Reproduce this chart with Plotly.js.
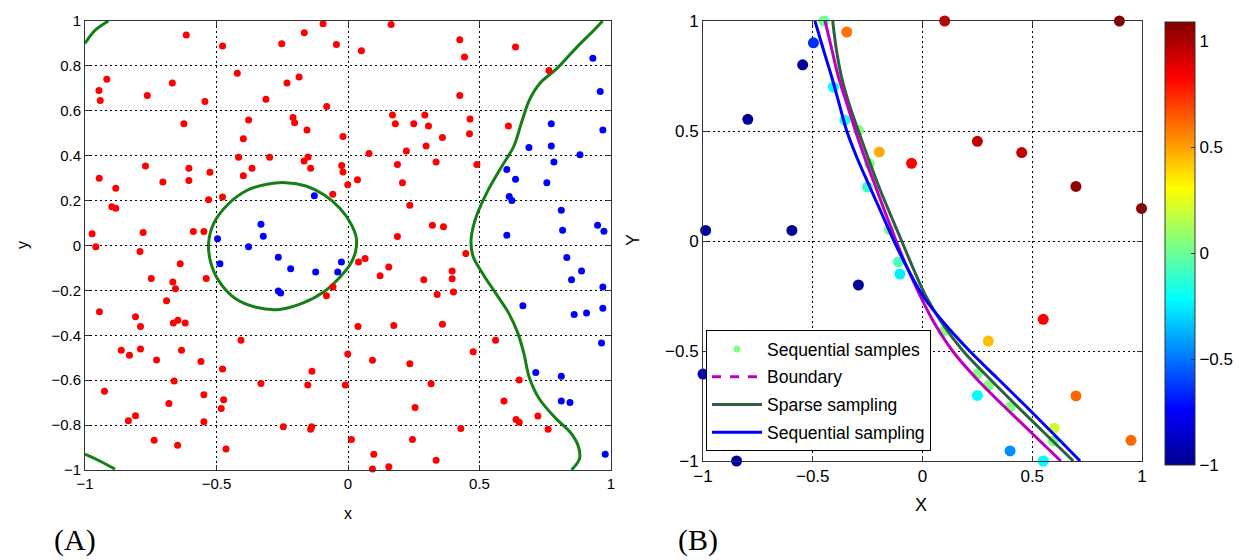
<!DOCTYPE html>
<html>
<head>
<meta charset="utf-8">
<script src="https://cdn.plot.ly/plotly-3.0.1.min.js"></script>
<style>html,body{margin:0;padding:0;background:#fff;}#chart{width:1254px;height:560px;}</style>
</head>
<body>
<div id="chart"></div>
<script>
// ---------- Panel A data ----------
var redX = [-0.615,-0.477,-0.252,-0.166,-0.095,-0.044,0.051,-0.947,-0.942,-0.917,-0.763,-0.668,-0.544,-0.624,-0.421,-0.232,-0.186,-0.312,-0.378,-0.209,-0.203,-0.156,-0.081,-0.019,-0.398,-0.416,-0.298,-0.167,-0.152,-0.142,-0.024,-0.019,-0.001,0.036,-0.058,-0.398,-0.365,-0.525,-0.605,-0.605,-0.704,-0.770,-0.946,-0.883,-0.898,-0.883,-0.530,-0.477,-0.588,-0.548,-0.779,-0.973,-0.959,-0.791,
0.164,0.425,0.443,0.637,0.764,0.425,0.169,0.180,0.250,0.292,0.306,0.359,0.464,0.462,0.297,0.222,0.080,0.188,0.335,0.490,0.207,0.235,0.321,0.363,0.188,0.610,
-0.638,-0.748,-0.666,-0.656,-0.539,-0.690,-0.945,-0.808,-0.789,-0.664,-0.647,-0.619,-0.862,-0.831,-0.789,-0.633,-0.728,-0.559,-0.407,-0.477,-0.926,-0.661,-0.548,-0.681,-0.473,-0.482,-0.331,-0.153,-0.137,-0.010,-0.001,0.038,0.040,-0.082,-0.057,-0.835,-0.808,-0.548,-0.737,-0.648,-0.464,-0.246,-0.138,-0.142,0.013,
0.448,0.065,0.155,0.122,0.288,0.396,0.396,0.401,0.339,0.174,0.359,0.561,0.476,0.093,0.235,0.316,0.651,0.593,0.255,0.639,0.651,0.722,0.761,0.429,0.245,0.098,0.335,0.155,0.093];
var redY = [0.938,0.889,0.899,0.948,0.988,0.895,0.867,0.690,0.646,0.741,0.668,0.724,0.641,0.542,0.767,0.724,0.751,0.652,0.559,0.570,0.547,0.514,0.619,0.486,0.476,0.393,0.393,0.376,0.394,0.344,0.356,0.327,0.271,0.293,0.228,0.311,0.344,0.326,0.344,0.289,0.283,0.354,0.299,0.255,0.173,0.166,0.204,0.216,0.062,0.062,0.058,0.052,-0.006,-0.027,
0.984,0.917,0.840,0.884,0.779,0.668,0.581,0.542,0.542,0.581,0.532,0.481,0.564,0.498,0.443,0.421,0.410,0.361,0.372,0.361,0.279,0.179,0.090,0.084,0.040,0.532,
-0.081,-0.147,-0.163,-0.193,-0.147,-0.246,-0.295,-0.317,-0.361,-0.345,-0.333,-0.345,-0.467,-0.489,-0.461,-0.467,-0.510,-0.517,-0.422,-0.550,-0.649,-0.604,-0.665,-0.704,-0.687,-0.726,-0.615,-0.621,-0.560,-0.621,-0.483,-0.361,-0.074,-0.224,-0.185,-0.781,-0.758,-0.785,-0.868,-0.890,-0.907,-0.807,-0.807,-0.819,-0.864,
-0.036,-0.058,-0.096,-0.135,-0.153,-0.114,-0.148,-0.207,-0.218,-0.356,-0.351,-0.422,-0.473,-0.511,-0.527,-0.616,-0.599,-0.693,-0.722,-0.775,-0.787,-0.759,-0.819,-0.815,-0.864,-0.930,-0.957,-0.985,-0.996];

var blueX = [-0.128,-0.331,-0.322,-0.496,-0.378,-0.487,-0.265,-0.218,-0.123,-0.025,-0.039,-0.265,-0.256,
0.931,0.959,0.969,0.773,0.688,0.773,0.882,0.783,0.604,0.637,0.756,0.613,0.623,0.811,0.816,0.949,0.973,0.604,0.832,0.888,0.850,0.969,0.665,0.860,0.907,0.969,0.964,1.002,0.714,0.811,0.811,0.844,0.978];
var blueY = [0.222,0.095,0.041,0.030,-0.006,-0.081,-0.052,-0.104,-0.118,-0.074,-0.118,-0.203,-0.212,
0.834,0.686,0.514,0.542,0.437,0.443,0.404,0.372,0.339,0.295,0.279,0.218,0.200,0.157,0.068,0.090,0.064,0.046,-0.053,-0.114,-0.153,-0.185,-0.268,-0.307,-0.301,-0.279,-0.434,-0.455,-0.566,-0.582,-0.693,-0.699,-0.930];

var loopX = [-0.530,-0.510,-0.455,-0.385,-0.308,-0.237,-0.160,-0.090,-0.030,0.012,0.032,0.028,0.008,-0.030,-0.090,-0.175,-0.262,-0.350,-0.430,-0.490,-0.522,-0.530];
var loopY = [0.012,0.100,0.185,0.245,0.273,0.280,0.265,0.225,0.165,0.095,0.030,-0.030,-0.085,-0.140,-0.205,-0.258,-0.285,-0.275,-0.235,-0.160,-0.075,0.012];
var rightEdgeX = [0.968,0.936,0.872,0.796,0.730,0.690,0.663,0.630,0.585,0.530,0.488,0.468,0.475,0.510,0.560,0.610,0.645,0.668,0.690,0.728,0.790,0.845,0.876,0.880,0.850];
var rightEdgeY = [1.0,0.96,0.886,0.790,0.723,0.649,0.560,0.441,0.353,0.240,0.130,0.027,-0.047,-0.121,-0.210,-0.299,-0.388,-0.477,-0.590,-0.684,-0.770,-0.832,-0.895,-0.950,-0.999];
var topCornerX = [-1.0,-0.962,-0.911];
var topCornerY = [0.90,0.958,1.0];
var bottomCornerX = [-1.0,-0.94,-0.886];
var bottomCornerY = [-0.929,-0.962,-0.996];

// ---------- Panel B data ----------
var sampX = [-0.449,-0.345,-0.497,-0.546,-0.796,-0.988,-0.595,-0.406,-0.353,-0.292,-0.197,-0.242,-0.251,-0.050,-0.152,0.101,0.897,0.250,0.452,0.699,0.998,-0.292,-0.110,-0.103,-1.0,-0.847,0.550,0.300,0.250,0.300,0.250,0.399,0.699,0.950,0.600,0.596,0.399,0.550,0.095];
var sampY = [1.0,0.95,0.901,0.801,0.553,0.048,0.048,0.70,0.549,0.503,0.405,0.352,0.245,0.353,0.052,1.0,1.0,0.453,0.402,0.248,0.148,-0.20,-0.095,-0.150,-0.605,-1.0,-0.356,-0.455,-0.605,-0.658,-0.702,-0.754,-0.704,-0.906,-0.851,-0.909,-0.954,-1.0,-0.412];
var sampV = [0.0,0.6,-0.64,-0.98,-0.97,-0.97,-0.99,-0.2,-0.15,0.05,0.48,0.03,-0.1,0.83,0.03,0.95,1.08,0.95,0.95,1.05,1.06,-0.97,-0.05,-0.25,-0.88,-0.95,0.83,0.44,0.05,0.05,-0.22,0.05,0.62,0.62,0.2,0.05,-0.45,-0.22,0.05];

var curveY = [1.0,0.875,0.75,0.625,0.5,0.375,0.25,0.125,0.0,-0.125,-0.25,-0.375,-0.5,-0.625,-0.75,-0.875,-1.0];
var boundaryX = [-0.444,-0.414,-0.384,-0.345,-0.305,-0.262,-0.215,-0.168,-0.120,-0.068,-0.010,0.055,0.137,0.245,0.370,0.500,0.630];
var sparseX = [-0.409,-0.393,-0.370,-0.335,-0.292,-0.247,-0.200,-0.148,-0.095,-0.042,0.015,0.090,0.185,0.305,0.430,0.558,0.687];
var seqX = [-0.490,-0.453,-0.415,-0.380,-0.345,-0.297,-0.242,-0.186,-0.130,-0.068,0.002,0.100,0.215,0.342,0.470,0.595,0.718];

var cbTicks = [-1,-0.5,0,0.5,1];

var jet = [[0,'rgb(0,0,143)'],[0.125,'rgb(0,0,255)'],[0.375,'rgb(0,255,255)'],[0.625,'rgb(255,255,0)'],[0.875,'rgb(255,0,0)'],[1,'rgb(128,0,0)']];
var FONT = '"Liberation Sans", Arial, sans-serif';
var SERIF = '"Liberation Serif", "Times New Roman", serif';
var GREEN_A = 'rgb(20,128,20)';

var traces = [];
function aLine(x,y){
  traces.push({x:x,y:y,xaxis:'x',yaxis:'y',type:'scatter',mode:'lines',line:{color:GREEN_A,width:3,shape:'spline',smoothing:1},showlegend:false,hoverinfo:'skip'});
}
aLine(loopX,loopY); aLine(rightEdgeX,rightEdgeY); aLine(topCornerX,topCornerY); aLine(bottomCornerX,bottomCornerY);
traces.push({x:redX,y:redY,xaxis:'x',yaxis:'y',type:'scatter',mode:'markers',marker:{color:'rgb(255,0,0)',size:7},cliponaxis:false,showlegend:false});
traces.push({x:blueX,y:blueY,xaxis:'x',yaxis:'y',type:'scatter',mode:'markers',marker:{color:'rgb(0,0,255)',size:7},cliponaxis:false,showlegend:false});

// Panel B
traces.push({x:sampX,y:sampY,xaxis:'x2',yaxis:'y2',type:'scatter',mode:'markers',cliponaxis:false,showlegend:false,
  marker:{size:11,color:sampV,cmin:-1,cmax:1.09,colorscale:jet,showscale:true,
    colorbar:{x:1165/1254,xanchor:'left',y:1-243.5/560,yanchor:'middle',thickness:30,thicknessmode:'pixels',len:443,lenmode:'pixels',
      xpad:0,ypad:0,outlinewidth:1,outlinecolor:'#333',tickvals:cbTicks,ticks:'inside',ticklen:4,tickcolor:'#333',
      tickfont:{family:FONT,size:17,color:'#000'}}}});
traces.push({x:sparseX,y:curveY,xaxis:'x2',yaxis:'y2',type:'scatter',mode:'lines',line:{color:'rgb(45,95,65)',width:3,shape:'spline'},showlegend:false});
traces.push({x:boundaryX,y:curveY,xaxis:'x2',yaxis:'y2',type:'scatter',mode:'lines',line:{color:'rgb(190,0,190)',width:3,shape:'spline'},showlegend:false});
traces.push({x:seqX,y:curveY,xaxis:'x2',yaxis:'y2',type:'scatter',mode:'lines',line:{color:'rgb(0,0,255)',width:3,shape:'spline'},showlegend:false});
// legend entries
traces.push({x:[null],y:[null],xaxis:'x2',yaxis:'y2',type:'scatter',mode:'markers',name:'Sequential samples',legendgroup:'a',marker:{color:'rgb(128,255,128)',size:7}});
traces.push({x:[null],y:[null],xaxis:'x2',yaxis:'y2',type:'scatter',mode:'lines',name:'Boundary',legendgroup:'b',line:{color:'rgb(190,0,190)',width:3,dash:'dash'}});
traces.push({x:[null],y:[null],xaxis:'x2',yaxis:'y2',type:'scatter',mode:'lines',name:'Sparse sampling',legendgroup:'c',line:{color:'rgb(45,95,65)',width:3}});
traces.push({x:[null],y:[null],xaxis:'x2',yaxis:'y2',type:'scatter',mode:'lines',name:'Sequential sampling',legendgroup:'d',line:{color:'rgb(0,0,255)',width:3}});

function ax(domain, dtick, fs, anchor){
  return {domain:domain,range:[-1,1],dtick:dtick,tick0:-1,showline:true,linecolor:'#333',linewidth:1,mirror:'ticks',
    ticks:'inside',ticklen:5,tickcolor:'#333',showgrid:true,gridcolor:'#000',griddash:'2px,3px',gridwidth:1,zeroline:false,
    tickfont:{family:FONT,size:fs,color:'#000'},anchor:anchor,automargin:false,fixedrange:true};
}
function note(text,x,y,size,fam,angle){
  return {text:text,xref:'paper',yref:'paper',x:x/1254,y:1-y/560,xanchor:'center',yanchor:'middle',showarrow:false,
    textangle:angle||0,font:{family:fam,size:size,color:'#000'}};
}
var layout = {
  width:1254,height:560,margin:{l:0,r:0,t:0,b:0,pad:0},paper_bgcolor:'#fff',plot_bgcolor:'#fff',
  font:{family:FONT,color:'#000'},
  xaxis: ax([85/1254,611/1254],0.5,15,'y'),
  yaxis: ax([1-470/560,1-21/560],0.2,15,'x'),
  xaxis2: ax([703/1254,1142/1254],0.5,17,'y2'),
  yaxis2: ax([1-461/560,1-21/560],0.5,17,'x2'),
  legend:{x:706/1254,y:1-330/560,xanchor:'left',yanchor:'top',bgcolor:'#fff',bordercolor:'#000',borderwidth:1,
    font:{family:FONT,size:17.5,color:'#000'},traceorder:'grouped',tracegroupgap:2,itemwidth:50},
  annotations:[
    note('x',348,513,16,FONT),
    note('y',22,245,16,FONT,-90),
    note('X',921,505,18,FONT),
    note('Y',633,240,18,FONT,-90),
    note('(A)',75,540,30,SERIF),
    note('(B)',698,540,30,SERIF)
  ]
};
Plotly.newPlot('chart',traces,layout,{staticPlot:true});
</script>
</body>
</html>
